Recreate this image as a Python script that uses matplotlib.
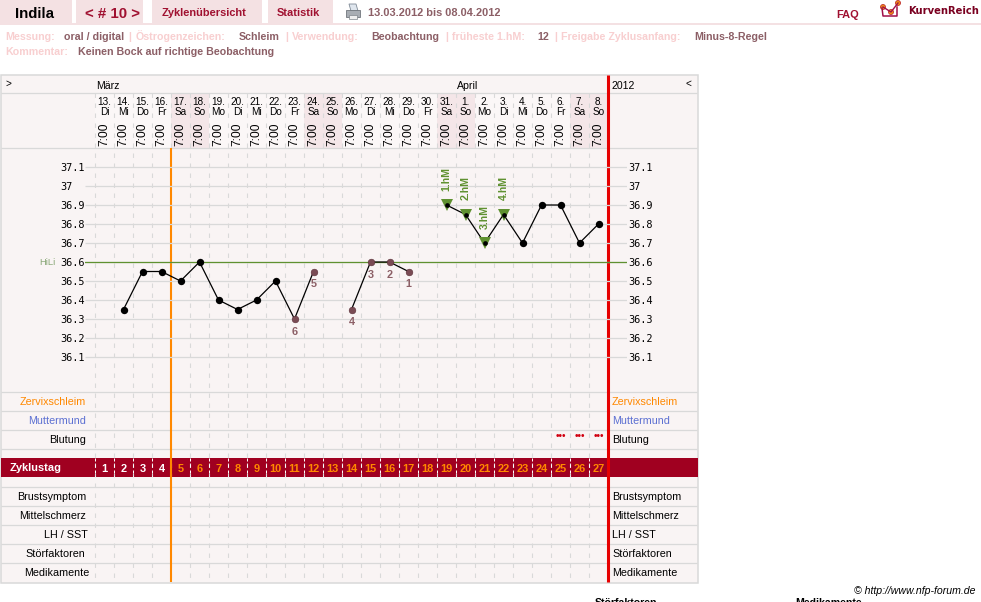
import numpy as np
import matplotlib
matplotlib.use('Agg')
import matplotlib.pyplot as plt
from matplotlib.patches import Rectangle, Polygon, Circle

plt.rcParams['font.family'] = ['Liberation Sans', 'DejaVu Sans']

# Zyklusdaten
dates = ['13.', '14.', '15.', '16.', '17.', '18.', '19.', '20.', '21.', '22.', '23.', '24.', '25.', '26.',
         '27.', '28.', '29.', '30.', '31.', '1.', '2.', '3.', '4.', '5.', '6.', '7.', '8.']
weekdays = ['Di', 'Mi', 'Do', 'Fr', 'Sa', 'So', 'Mo', 'Di', 'Mi', 'Do', 'Fr', 'Sa', 'So', 'Mo',
            'Di', 'Mi', 'Do', 'Fr', 'Sa', 'So', 'Mo', 'Di', 'Mi', 'Do', 'Fr', 'Sa', 'So']
times = ['7:00'] * 27
cycle_days = list(range(1, 28))
temps = [np.nan, 36.35, 36.55, 36.55, 36.5, 36.6, 36.4, 36.35, 36.4, 36.5, 36.3, 36.55, np.nan, 36.35,
         36.6, 36.6, 36.55, np.nan, 36.9, 36.85, 36.7, 36.85, 36.7, 36.9, 36.9, 36.7, 36.8]
temp_ticks = [37.1, 37.0, 36.9, 36.8, 36.7, 36.6, 36.5, 36.4, 36.3, 36.2, 36.1]
temp_labels = ['37.1', '37', '36.9', '36.8', '36.7', '36.6', '36.5', '36.4', '36.3', '36.2', '36.1']
hili = 36.6

# Tage vor der Hochlage (Index, Nummer) und hM-Markierungen
low_days = [10, 11, 13, 14, 15, 16]
low_nums = ['6', '5', '4', '3', '2', '1']
hm_days = [18, 19, 20, 21]
hm_labels = ['1.hM', '2.hM', '3.hM', '4.hM']
weekend_days = [4, 5, 11, 12, 18, 19, 25, 26]
bleeding_days = [24, 25, 26]

rows_top = ['Zervixschleim', 'Muttermund', 'Blutung']
rows_bottom = ['Brustsymptom', 'Mittelschmerz', 'LH / SST', 'Störfaktoren', 'Medikamente']

DARK = '#a00020'
TITLE = '#a01030'
PALE = '#f4e1e3'
BROWN = '#8c5f66'
LABEL = '#f8cfd0'
GRID = '#d9d9d9'
GREEN = '#5f9130'
ORANGE = '#ff8800'
RED = '#e60000'


def col_x(i):
    return 94.5 + 19 * i


fig = plt.figure(figsize=(9.81, 6.02), dpi=100)

# Seite in Pixelkoordinaten
pg = fig.add_axes([0, 0, 1, 1])
pg.set_xlim(0, 981)
pg.set_ylim(602, 0)
pg.axis('off')


def px_text(x, y, s, size, **kw):
    # y ist die Zeilenmitte, gesetzt wird auf die Grundlinie (Umlaute verschieben sonst die Zeile)
    if 'va' not in kw:
        kw['va'] = 'baseline'
        y = y + 0.36 * size
    kw.setdefault('color', 'black')
    return pg.text(x, y, s, fontsize=size * 0.72, **kw)


# Kopfzeile
for x0, x1 in [(0, 72), (76, 143), (152, 262), (268, 333)]:
    pg.add_patch(Rectangle((x0, 0), x1 - x0, 23, color=PALE, lw=0))
pg.add_patch(Rectangle((0, 23), 981, 2, color=PALE, lw=0))
px_text(35, 12.5, 'Indila', 15, ha='center', weight='bold')
px_text(112.5, 12.5, '< # 10 >', 15, ha='center', weight='bold', color=TITLE)
px_text(204.5, 12, 'Zyklenübersicht', 11, ha='center', weight='bold', color=TITLE)
px_text(298.5, 12, 'Statistik', 11, ha='center', weight='bold', color=TITLE)
px_text(368, 12, '13.03.2012 bis 08.04.2012', 11, weight='bold', color=BROWN)
px_text(836, 14, 'FAQ', 11, weight='bold', color=TITLE)
px_text(908, 10.5, 'KurvenReich', 10, weight='bold', color='#7a0020', family='DejaVu Sans')

# Druckersymbol
pg.add_patch(Polygon([(349, 4), (356, 4), (358, 11), (351, 11)], fc='#dfe6ee', ec='#7f8a96', lw=0.6))
pg.add_patch(Rectangle((346, 10), 14, 7, fc='#a8adb3', ec='#70767c', lw=0.6))
pg.add_patch(Rectangle((349, 15), 8, 4, fc='#eeeeee', ec='#80868c', lw=0.5))

# Logo
pg.plot([882, 883, 897, 897], [8, 16, 16, 7], color='#a0104a', lw=1.1)
pg.plot([883, 891, 898], [7, 12, 3], color='#a0104a', lw=1.0)
for cx, cy in [(883, 7), (891, 12), (898, 3)]:
    pg.add_patch(Circle((cx, cy), 2.5, fc='#f09010', ec='#c03030', lw=0.6))

# Infozeilen
info = [(5, 'Messung:', LABEL), (64, 'oral / digital', BROWN), (128, '|', LABEL),
        (136, 'Östrogenzeichen:', LABEL), (239, 'Schleim', BROWN), (285, '|', LABEL),
        (292, 'Verwendung:', LABEL), (371, 'Beobachtung', BROWN), (445, '|', LABEL),
        (452, 'früheste 1.hM:', LABEL), (537, '12', BROWN), (554, '|', LABEL),
        (561, 'Freigabe Zyklusanfang:', LABEL), (694, 'Minus-8-Regel', BROWN)]
for x, s, c in info:
    px_text(x, 36, s, 10.6, color=c, weight='bold')
px_text(5, 51, 'Kommentar:', 10.6, color=LABEL, weight='bold')
px_text(78, 51, 'Keinen Bock auf richtige Beobachtung', 10.6, color=BROWN, weight='bold')

# Tabelle
pg.add_patch(Rectangle((1, 75), 696.5, 507.5, fc='#f9f4f4', ec=GRID, lw=1.1))
pg.add_patch(Rectangle((col_x(0), 93), 19 * 27, 55, fc='#fbf7f7', lw=0))
for i in weekend_days:
    pg.add_patch(Rectangle((col_x(i), 93), 19, 55, fc='#f4e6e8', lw=0))
pg.hlines([93, 148, 392, 411, 430, 449, 487, 506, 525, 544, 563], 1, 697, color=GRID, lw=0.9)
pg.vlines([col_x(i) for i in range(0, 27)], 93, 582, color=GRID, lw=0.8, linestyles=(0, (4, 5)))

px_text(5, 83, '>', 10)
px_text(96, 85, 'März', 10.5)
px_text(457, 85, 'April', 10.5)
px_text(612, 85, '2012', 10.5)
px_text(686, 83, '<', 10)

for i in range(27):
    cx = col_x(i) + 10
    px_text(cx, 101.5, dates[i], 10, ha='center')
    px_text(cx, 111.5, weekdays[i], 10, ha='center')
    px_text(cx, 134, times[i], 12, ha='center', va='center', rotation=90)

# Zyklustag-Balken
pg.add_patch(Rectangle((1, 458), 696.5, 19, color=DARK, lw=0))
pg.vlines([col_x(i) for i in range(27)], 458, 477, color='white', lw=0.72, linestyles=(0, (3, 3)))
px_text(10, 467.5, 'Zyklustag', 11, color='white', weight='bold')
for i, n in enumerate(cycle_days):
    px_text(col_x(i) + 10, 468, str(n), 11, ha='center', weight='bold', color='white' if i < 4 else ORANGE)

# Zeilenbeschriftungen links und rechts
top_y = [401.5, 420.5, 439.5]
top_c = [ORANGE, '#5c70d2', 'black']
for s, y, c in zip(rows_top, top_y, top_c):
    px_text(86, y, s, 10.8, ha='right', color=c)
    px_text(612, y, s, 10.8, color=c)
bottom_y = [496.5, 515.5, 534.5, 553.5, 572.5]
bottom_r = [86, 86, 87.5, 85, 89]
for s, y, r in zip(rows_bottom, bottom_y, bottom_r):
    px_text(r, y, s, 10.8, ha='right')
    px_text(612, y, s, 10.8)

for i in bleeding_days:
    px_text(col_x(i) + 10, 435.5, '•••', 10, ha='center', color='#d00010')

pg.vlines(170.5, 148, 582, color=ORANGE, lw=1.5)
pg.vlines(607.5, 75, 582, color=RED, lw=2.2)

# Fusszeile
px_text(976, 590.5, '© http://www.nfp-forum.de', 10.5, ha='right', style='italic')
px_text(595, 602.5, 'Störfaktoren', 10.5, weight='bold', clip_on=True)
px_text(795, 602.5, 'Medikamente', 10.5, weight='bold', clip_on=True)

# Temperaturkurve
left, right, top, bottom = 85, 627, 148, 392
ax = fig.add_axes([left / 981, 1 - bottom / 602, (right - left) / 981, (bottom - top) / 602])
ax.patch.set_alpha(0)
ax.set_xlim((left - 104.5) / 19, (right - 104.5) / 19)
ax.set_ylim(36.6 - (bottom - 262) / 190, 36.6 + (262 - top) / 190)
ax.set_xticks([])
ax.set_yticks(temp_ticks, temp_labels, family='DejaVu Sans Mono', fontsize=7.4, ha='left')
ax.tick_params(axis='y', length=0, pad=18)

ax2 = ax.twinx()
ax2.set_ylim(ax.get_ylim())
ax2.set_yticks(temp_ticks, temp_labels, family='DejaVu Sans Mono', fontsize=7.4)
ax2.tick_params(axis='y', length=0, pad=1)
for a in (ax, ax2):
    for s in a.spines.values():
        s.set_visible(False)

ax.hlines(temp_ticks, *ax.get_xlim(), color=GRID, lw=0.9, zorder=1)
ax.axhline(hili, color=GREEN, lw=0.9, zorder=1.5)
px_text(56, 262, 'HiLi', 9.5, ha='right', color='#8aa878')

days = np.arange(27)
temps = np.array(temps)
ax.plot(days, temps, color='black', lw=0.9, zorder=3)

high = [d for d in days if d not in low_days and not np.isnan(temps[d])]
hm_y = temps[hm_days]
ax.plot(hm_days, hm_y, 'v', color=GREEN, ms=8.5, mew=0, zorder=4)
others = [d for d in high if d not in hm_days]
ax.plot(others, temps[others], 'o', color='black', ms=5.3, mew=0, zorder=5)
ax.plot(hm_days, hm_y, 'o', color='black', ms=3.4, mew=0, zorder=5)
ax.plot(low_days, temps[low_days], 'o', color='#7a4b54', ms=4.8, mew=0.4, mec='#5a3038', zorder=5)

for d, s in zip(hm_days, hm_labels):
    ax.annotate(s, (d, temps[d]), xytext=(0, 19), textcoords='offset points', rotation=90,
                ha='center', va='center', color=GREEN, fontsize=7.6, weight='bold')
for d, s in zip(low_days, low_nums):
    ax.annotate(s, (d, temps[d]), xytext=(0, -9), textcoords='offset points',
                ha='center', va='center', color=BROWN, fontsize=7.8, weight='bold')

fig.savefig('out.png', dpi=100)
